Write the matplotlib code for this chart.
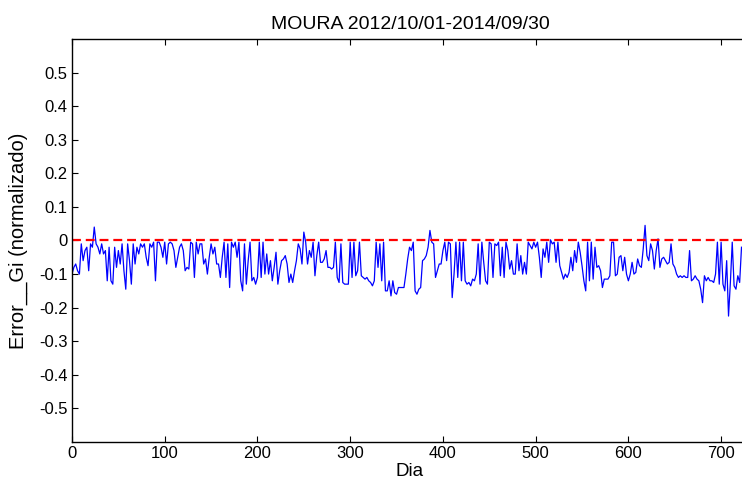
import numpy as np
import matplotlib
matplotlib.use('Agg')
import matplotlib.pyplot as plt

plt.rcParams['font.family'] = ['Liberation Sans', 'DejaVu Sans']

titulo = 'MOURA 2012/10/01-2014/09/30'
xlabel = 'Dia'
ylabel = 'Error__Gi (normalizado)'

# erro normalizado, lido a cada 2 dias
erro_gi = [
    # dias 0-120
    -0.10, -0.08, -0.07, -0.09, -0.10, -0.01, -0.06, -0.03, -0.02, -0.09,
    -0.01, -0.02, 0.04, -0.01, -0.02, -0.04, -0.01, -0.04, -0.03, -0.12,
    -0.02, -0.12, -0.13, -0.02, -0.08, -0.03, -0.07, -0.01, -0.09, -0.145,
    -0.01, -0.06, -0.13, -0.01, -0.07, -0.02, -0.04, -0.01, -0.02, -0.01,
    -0.05, -0.075, -0.01, -0.02, -0.005, -0.12, -0.005, -0.005, -0.02, -0.05,
    -0.005, -0.07, -0.01, -0.005, -0.01, -0.03, -0.08, -0.05, -0.02, -0.01,
    -0.03,
    # dias 122-240
    -0.09, -0.08, -0.085, -0.005, -0.01, -0.11, -0.005, -0.04, -0.01, -0.01,
    -0.07, -0.055, -0.10, -0.05, -0.01, -0.04, -0.02, -0.07, -0.07, -0.11,
    -0.05, -0.005, -0.11, -0.01, -0.14, -0.005, -0.02, -0.005, -0.05, -0.005,
    -0.12, -0.15, -0.01, -0.13, -0.06, -0.005, -0.12, -0.11, -0.13, -0.11,
    -0.005, -0.11, -0.005, -0.10, -0.04, -0.10, -0.06, -0.12, -0.08, -0.035,
    -0.13, -0.09, -0.06, -0.055, -0.045, -0.07, -0.125, -0.10, -0.125, -0.09,
    # dias 242-358
    -0.06, -0.01, -0.025, -0.07, 0.025, -0.005, -0.07, -0.03, -0.05, -0.005,
    -0.105, -0.045, -0.005, -0.065, -0.065, -0.055, -0.03, -0.08, -0.08, -0.085,
    -0.08, -0.005, -0.11, -0.125, -0.01, -0.125, -0.13, -0.13, -0.13, -0.005,
    -0.11, -0.005, -0.105, -0.09, -0.005, -0.105, -0.11, -0.115, -0.11, -0.12,
    -0.125, -0.135, -0.12, -0.005, -0.08, -0.01, -0.12, -0.005, -0.15, -0.15,
    -0.12, -0.165, -0.12, -0.155, -0.16, -0.14, -0.14, -0.14, -0.14,
    # dias 360-472
    -0.10, -0.055, -0.02, -0.03, -0.005, -0.15, -0.16, -0.145, -0.14, -0.06,
    -0.055, -0.045, -0.02, 0.03, -0.005, -0.01, -0.11, -0.09, -0.07, -0.07,
    -0.03, -0.005, -0.06, -0.005, -0.01, -0.17, -0.10, -0.005, -0.11, -0.005,
    -0.12, -0.005, -0.12, -0.13, -0.125, -0.135, -0.115, -0.12, -0.10, -0.01,
    -0.13, -0.005, -0.065, -0.12, -0.13, -0.005, -0.01, -0.11, -0.01, -0.015,
    -0.005, -0.105, -0.02, -0.11, -0.005, -0.03, -0.085,
    # dias 474-592
    -0.06, -0.10, -0.10, -0.01, -0.09, -0.045, -0.10, -0.065, -0.10, -0.005,
    -0.015, -0.025, -0.005, -0.02, -0.005, -0.05, -0.11, -0.025, -0.05, -0.005,
    -0.065, 0.002, -0.01, -0.005, -0.065, -0.005, -0.075, -0.095, -0.115, -0.10,
    -0.11, -0.095, -0.05, -0.09, -0.03, -0.065, -0.005, -0.035, -0.075, -0.12,
    -0.15, -0.005, -0.12, -0.005, -0.115, -0.02, -0.08, -0.075, -0.09, -0.14,
    -0.115, -0.115, -0.115, -0.105, -0.005, -0.005, -0.105, -0.10, -0.05, -0.045,
    # dias 594-722
    -0.09, -0.05, -0.10, -0.12, -0.10, -0.065, -0.10, -0.095, -0.055, -0.075,
    -0.08, -0.025, 0.045, -0.045, -0.06, -0.01, -0.03, -0.085, -0.03, 0.005,
    -0.08, -0.055, -0.05, -0.06, -0.07, -0.065, -0.01, -0.07, -0.08, -0.10,
    -0.11, -0.105, -0.11, -0.105, -0.11, -0.11, -0.03, -0.12, -0.115, -0.105,
    -0.115, -0.12, -0.145, -0.185, -0.105, -0.12, -0.11, -0.12, -0.12, -0.125,
    -0.10, -0.005, -0.13, -0.005, -0.13, -0.15, -0.06, -0.225, -0.125, -0.005,
    -0.135, -0.145, -0.105, -0.125, -0.02,
]
dias = np.arange(len(erro_gi)) * 2

xticks = [0, 100, 200, 300, 400, 500, 600, 700]
yticks = [-0.5, -0.4, -0.3, -0.2, -0.1, 0, 0.1, 0.2, 0.3, 0.4, 0.5]
ytick_labels = ['-0.5', '-0.4', '-0.3', '-0.2', '-0.1', '0',
                '0.1', '0.2', '0.3', '0.4', '0.5']

fig = plt.figure(figsize=(7.42, 4.86), dpi=100)
# the right border of the axes falls just outside the picture
ax = fig.add_axes([72 / 742, 1 - 442 / 486, 676 / 742, 403 / 486])

ax.plot(dias, erro_gi, color='#0000ff', lw=0.9)
ax.plot([0, 729], [0, 0], color='#ff0000', lw=1.6, ls=(0, (4, 2.2)))

ax.set_xlim(0, 729)
ax.set_ylim(-0.6, 0.6)
ax.set_xticks(xticks)
ax.set_yticks(yticks)
ax.set_yticklabels(ytick_labels)
ax.tick_params(direction='in', length=4, width=0.8, labelsize=12,
               top=True, right=True, pad=3)
for s in ax.spines.values():
    s.set_linewidth(1.0)

ax.set_title(titulo, fontsize=14, pad=7)
ax.set_xlabel(xlabel, fontsize=13.5, labelpad=1)
ax.set_ylabel(ylabel, fontsize=14.5)
ax.yaxis.set_label_coords(-44 / 676, 0.5)

fig.savefig('out.png', dpi=100)
